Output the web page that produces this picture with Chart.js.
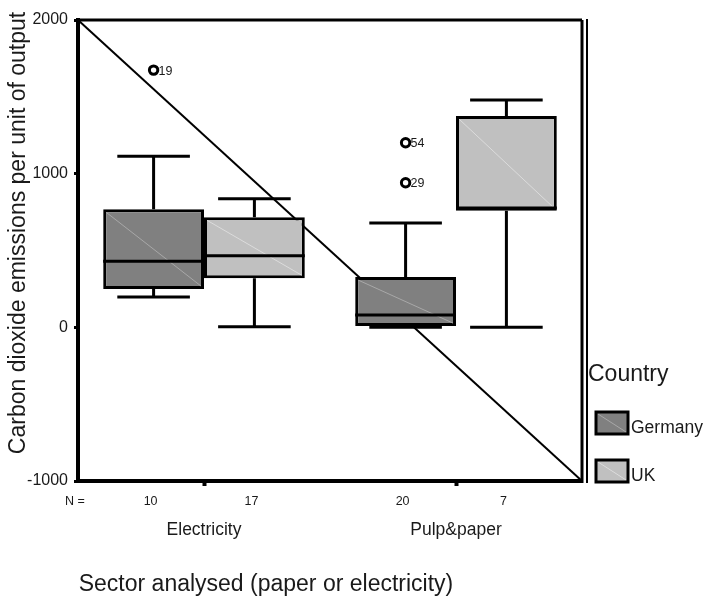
<!DOCTYPE html>
<html>
<head>
<meta charset="utf-8">
<script src="https://cdn.jsdelivr.net/npm/chart.js@4/dist/chart.umd.min.js"></script>
<style>
  html, body { margin: 0; padding: 0; background: #fff; }
  #wrap { width: 705px; height: 601px; }
</style>
</head>
<body>
<div id="wrap"><canvas id="boxChart"></canvas></div>
<script>
const categories = ['Electricity', 'Pulp&paper'];
const countries = ['Germany', 'UK'];
const yTicks = [-1000, 0, 1000, 2000];

// box plot stats per category
const germanyMin = [197, 0];
const germanyQ1 = [249, 8];
const germanyMedian = [430, 80];
const germanyQ3 = [768, 327];
const germanyMax = [1113, 679];
const germanyN = [10, 20];

const ukMin = [4, 0];
const ukQ1 = [319, 758];
const ukMedian = [466, 776];
const ukQ3 = [716, 1375];
const ukMax = [837, 1479];
const ukN = [17, 7];

// outliers (all Germany)
const outlierCategory = [0, 1, 1];
const outlierValues = [1674, 1201, 941];
const outlierIds = ['19', '54', '29'];

const FONT = "'Liberation Sans', Arial, sans-serif";
const TXT = '#1a1a1a';
const fills = ['#808080', '#c0c0c0'];
const sheen = ['#a8a8a8', '#dcdcdc'];

const stats = [
  { min: germanyMin, q1: germanyQ1, med: germanyMedian, q3: germanyQ3, max: germanyMax, n: germanyN },
  { min: ukMin, q1: ukQ1, med: ukMedian, q3: ukQ3, max: ukMax, n: ukN }
];

const boxPlugin = {
  id: 'boxes',
  beforeDatasetsDraw(chart) {
    const { ctx, chartArea: a, scales: { y } } = chart;
    // the long diagonal across the plot
    ctx.save();
    ctx.strokeStyle = '#000';
    ctx.lineWidth = 2;
    ctx.beginPath();
    ctx.moveTo(a.left, y.getPixelForValue(2000));
    ctx.lineTo(a.right, y.getPixelForValue(-1000));
    ctx.stroke();
    ctx.restore();
  },
  afterDatasetsDraw(chart) {
    const { ctx, scales: { y } } = chart;
    ctx.save();
    ctx.lineCap = 'butt';
    chart.data.datasets.forEach((ds, di) => {
      const meta = chart.getDatasetMeta(di);
      const s = stats[di];
      meta.data.forEach((bar, i) => {
        const cx = bar.x, hw = bar.width / 2;
        const top = y.getPixelForValue(s.q3[i]);
        const bot = y.getPixelForValue(s.q1[i]);
        // faint diagonal inside box
        ctx.strokeStyle = sheen[di];
        ctx.lineWidth = 1;
        ctx.beginPath();
        ctx.moveTo(cx - hw + 3, top + 3);
        ctx.lineTo(cx + hw - 3, bot - 3);
        ctx.stroke();
        // median
        ctx.strokeStyle = '#000';
        ctx.lineWidth = 3;
        const m = y.getPixelForValue(s.med[i]);
        ctx.beginPath();
        ctx.moveTo(cx - hw, m);
        ctx.lineTo(cx + hw, m);
        ctx.stroke();
        // whiskers
        const capW = bar.width * 0.36;
        const hi = y.getPixelForValue(s.max[i]);
        const lo = y.getPixelForValue(s.min[i]);
        ctx.beginPath();
        ctx.moveTo(cx, top); ctx.lineTo(cx, hi);
        ctx.moveTo(cx - capW, hi); ctx.lineTo(cx + capW, hi);
        ctx.moveTo(cx, bot); ctx.lineTo(cx, lo);
        ctx.moveTo(cx - capW, lo); ctx.lineTo(cx + capW, lo);
        ctx.stroke();
        // N counts
        ctx.fillStyle = TXT;
        ctx.font = '12.5px ' + FONT;
        ctx.textAlign = 'center';
        ctx.textBaseline = 'middle';
        ctx.fillText(String(s.n[i]), cx - 3, 502);
      });
    });
    // outliers
    const gMeta = chart.getDatasetMeta(0);
    outlierValues.forEach((v, k) => {
      const bar = gMeta.data[outlierCategory[k]];
      const py = y.getPixelForValue(v);
      ctx.strokeStyle = '#000';
      ctx.lineWidth = 3;
      ctx.beginPath();
      ctx.arc(bar.x, py, 4.2, 0, Math.PI * 2);
      ctx.stroke();
      ctx.fillStyle = TXT;
      ctx.font = '12.5px ' + FONT;
      ctx.textAlign = 'left';
      ctx.textBaseline = 'middle';
      ctx.fillText(outlierIds[k], bar.x + 5, py + 1);
    });
    ctx.restore();
  },
  afterDraw(chart) {
    const { ctx, chartArea: a } = chart;
    ctx.save();
    ctx.strokeStyle = '#000';
    // top frame and double right frame
    ctx.lineWidth = 3;
    ctx.beginPath();
    ctx.moveTo(a.left, a.top); ctx.lineTo(a.right, a.top);
    ctx.moveTo(a.right, a.top); ctx.lineTo(a.right, a.bottom + 2);
    ctx.stroke();
    ctx.lineWidth = 2;
    ctx.beginPath();
    ctx.moveTo(a.right + 5, a.top - 1); ctx.lineTo(a.right + 5, a.bottom + 2);
    ctx.stroke();

    // N = label
    ctx.fillStyle = TXT;
    ctx.font = '12.5px ' + FONT;
    ctx.textAlign = 'left';
    ctx.textBaseline = 'middle';
    ctx.fillText('N =', 65, 502);

    // axis titles
    ctx.font = '23px ' + FONT;
    ctx.textAlign = 'center';
    ctx.fillText('Sector analysed (paper or electricity)', 266, 585);
    ctx.save();
    ctx.translate(19, 233);
    ctx.rotate(-Math.PI / 2);
    ctx.fillText('Carbon dioxide emissions per unit of output', 0, 0);
    ctx.restore();

    // legend
    ctx.textAlign = 'left';
    ctx.fillText('Country', a.right + 6, 375);
    const sw = [412, 460];
    countries.forEach((c, i) => {
      const x0 = a.right + 14, y0 = sw[i], w = 32, h = 22;
      ctx.fillStyle = fills[i];
      ctx.fillRect(x0, y0, w, h);
      ctx.strokeStyle = sheen[i];
      ctx.lineWidth = 1;
      ctx.beginPath();
      ctx.moveTo(x0 + 2, y0 + 2); ctx.lineTo(x0 + w - 2, y0 + h - 2);
      ctx.stroke();
      ctx.strokeStyle = '#000';
      ctx.lineWidth = 3;
      ctx.strokeRect(x0, y0, w, h);
      ctx.fillStyle = TXT;
      ctx.font = '17.5px ' + FONT;
      ctx.fillText(c, x0 + w + 3, y0 + h / 2 + 5);
    });
    ctx.restore();
  }
};

new Chart(document.getElementById('boxChart'), {
  type: 'bar',
  data: {
    labels: categories,
    datasets: stats.map((s, i) => ({
      label: countries[i],
      data: s.q1.map((q, k) => [q, s.q3[k]]),
      backgroundColor: fills[i],
      borderColor: '#000',
      borderWidth: 3,
      borderSkipped: false,
      categoryPercentage: 0.8,
      barPercentage: 1.0
    }))
  },
  options: {
    responsive: true,
    maintainAspectRatio: false,
    animation: false,
    events: [],
    layout: { padding: { top: 20, right: 123, left: 0, bottom: 0 } },
    plugins: { legend: { display: false }, tooltip: { enabled: false } },
    scales: {
      x: {
        afterFit(scale) { scale.height = 120; },
        grid: { drawOnChartArea: false, offset: false, tickLength: 5, tickWidth: 4, tickColor: '#000' },
        border: { display: true, width: 4, color: '#000' },
        ticks: { color: TXT, font: { family: FONT, size: 17.5 }, padding: 34 }
      },
      y: {
        min: -1000,
        max: 2000,
        afterFit(scale) { scale.width = 78; },
        afterBuildTicks(scale) { scale.ticks = yTicks.map(v => ({ value: v })); },
        grid: { drawOnChartArea: false, tickLength: 4, tickWidth: 3, tickColor: '#000' },
        border: { display: true, width: 4, color: '#000' },
        ticks: { color: TXT, font: { family: FONT, size: 16 }, padding: 6, callback: v => String(v) }
      }
    }
  },
  plugins: [boxPlugin]
});
</script>
</body>
</html>
